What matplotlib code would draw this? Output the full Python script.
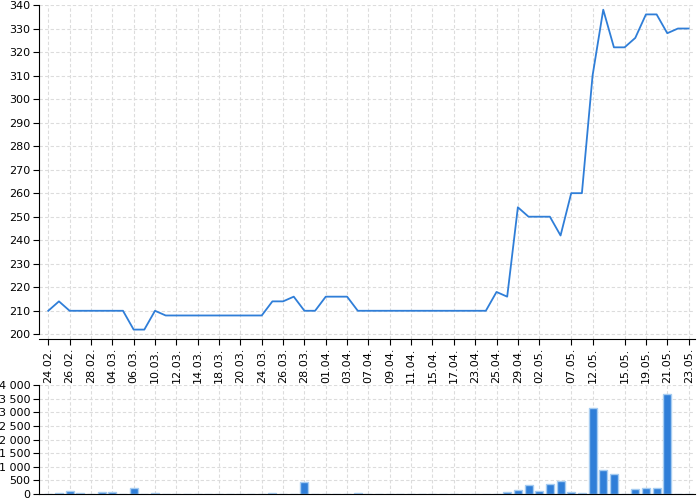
import matplotlib
matplotlib.use("Agg")
import matplotlib.pyplot as plt
from matplotlib.ticker import FuncFormatter

# trading days
dates = ["24.02.", "25.02.", "26.02.", "27.02.", "28.02.",
         "03.03.", "04.03.", "05.03.", "06.03.", "07.03.",
         "10.03.", "11.03.", "12.03.", "13.03.", "14.03.",
         "17.03.", "18.03.", "19.03.", "20.03.", "21.03.",
         "24.03.", "25.03.", "26.03.", "27.03.", "28.03.",
         "31.03.", "01.04.", "02.04.", "03.04.", "04.04.",
         "07.04.", "08.04.", "09.04.", "10.04.", "11.04.",
         "14.04.", "15.04.", "16.04.", "17.04.", "22.04.",
         "23.04.", "24.04.", "25.04.", "28.04.", "29.04.",
         "30.04.", "02.05.", "05.05.", "06.05.", "07.05.",
         "09.05.", "12.05.", "13.05.", "14.05.", "15.05.",
         "16.05.", "19.05.", "20.05.", "21.05.", "22.05.", "23.05."]

price = [210, 214, 210, 210, 210, 210, 210, 210, 202, 202,
         210, 208, 208, 208, 208, 208, 208, 208, 208, 208,
         208, 214, 214, 216, 210, 210, 216, 216, 216, 210,
         210, 210, 210, 210, 210, 210, 210, 210, 210, 210,
         210, 210, 218, 216, 254, 250, 250, 250, 242, 260,
         260, 310, 338, 322, 322, 326, 336, 336, 328, 330, 330]

volume = [0, 20, 110, 20, 0, 80, 80, 0, 220, 0,
          40, 0, 0, 0, 0, 0, 0, 0, 0, 0,
          0, 30, 0, 10, 440, 0, 10, 0, 0, 20,
          0, 0, 0, 0, 0, 0, 0, 0, 0, 0,
          0, 0, 5, 60, 150, 330, 110, 370, 480, 60,
          40, 3150, 870, 735, 0, 185, 215, 210, 3670, 0, 0]

label_idx = list(range(0, 47, 2)) + [49, 51, 54, 56, 58, 60]

blue = "#2f7ed8"
x = list(range(len(dates)))

fig = plt.figure(figsize=(7, 5), dpi=100)
ax1 = fig.add_axes([0.0557, 0.322, 0.9372, 0.668])
ax2 = fig.add_axes([0.0557, 0.012, 0.9372, 0.218])

for ax in (ax1, ax2):
    ax.set_xlim(-0.87, 60.6)
    ax.grid(True, color="#dcdcdc", linestyle=(0, (3, 2)), linewidth=0.8)
    ax.set_axisbelow(True)
    ax.spines["top"].set_visible(False)
    ax.spines["right"].set_visible(False)
    ax.tick_params(labelsize=8, length=4, width=0.8, pad=2)

# price line
ax1.plot(x, price, color=blue, linewidth=1.3)
ax1.set_ylim(198, 340)
ax1.set_yticks(range(200, 341, 10))
ax1.set_xticks(label_idx)
ax1.set_xticklabels([dates[i] for i in label_idx], rotation=90)
ax1.spines["left"].set_bounds(200, 340)

# volume bars
ax2.bar(x, volume, width=0.75, color=blue, edgecolor="#a6ccf1", linewidth=1)
ax2.set_ylim(0, 4000)
ax2.set_yticks(range(0, 4001, 500))
ax2.yaxis.set_major_formatter(FuncFormatter(lambda v, p: f"{int(v):,}".replace(",", " ")))
ax2.set_xticks(label_idx)
ax2.tick_params(axis="x", length=0, labelbottom=False)

plt.savefig("out.png", dpi=100)
